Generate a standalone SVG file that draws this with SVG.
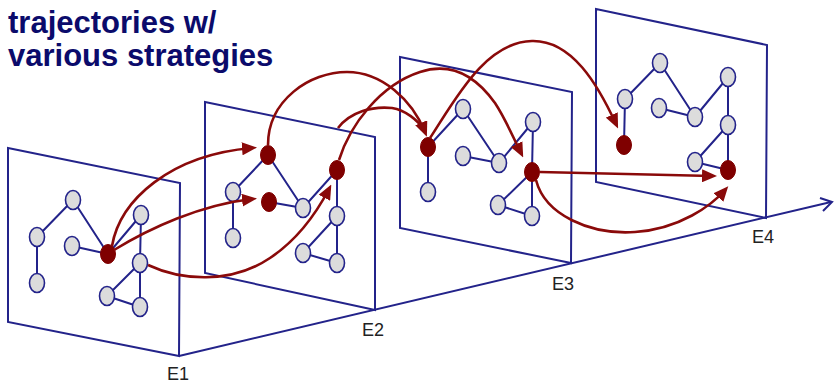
<svg xmlns="http://www.w3.org/2000/svg" width="834" height="385" viewBox="0 0 834 385">
<style>
.title{font-family:"Liberation Sans",Arial,sans-serif;font-weight:bold;font-size:31px;fill:#0b0b6b}
.lbl{font-family:"Liberation Sans",Arial,sans-serif;font-size:18px;fill:#222}
.pane{fill:none;stroke:#23238a;stroke-width:2}
.edge{stroke:#23238a;stroke-width:2;fill:none}
.n{fill:#dcdcdc;stroke:#23238a;stroke-width:1.6}
.r{fill:#7f0000;stroke:#7f0000;stroke-width:1}
.traj{fill:none;stroke:#8a0a0a;stroke-width:2.6}
.axis{fill:none;stroke:#23238a;stroke-width:2}
</style>
<defs>
<marker id="ah" viewBox="0 0 15 13" markerWidth="15" markerHeight="13" markerUnits="userSpaceOnUse" refX="10" refY="6.5" orient="auto">
<path d="M0,0 L15,6.5 L0,13 z" fill="#8a0a0a"/>
</marker>
</defs>
<rect width="834" height="385" fill="#fff"/>
<text class="title" x="8" y="33">trajectories w/</text>
<text class="title" x="8" y="66">various strategies</text>

<g id="axis">
<path class="axis" d="M179,356 L831,202"/>
<path class="axis" d="M820,198 L832,202 L823,211"/>
</g>

<g id="frame-E1">
<path class="pane" d="M8,148 L180,183 L179,356 L8,322 Z"/>
<g class="edge"><path d="M73,200 L37,237 M37,237 L37,283 M73,200 L108,254 M72,246 L108,254 M108,254 L141,215 M141,215 L140,263 M140,263 L107,296 M107,296 L140,307 M140,263 L140,307"/></g>
<g id="e1-a"><ellipse class="n" cx="73" cy="200" rx="7.5" ry="9.5"/></g>
<g id="e1-b"><ellipse class="n" cx="37" cy="237" rx="7.5" ry="9.5"/></g>
<g id="e1-c"><ellipse class="n" cx="37" cy="283" rx="7.5" ry="9.5"/></g>
<g id="e1-d"><ellipse class="n" cx="72" cy="246" rx="7.5" ry="9.5"/></g>
<g id="e1-r"><ellipse class="r" cx="108" cy="254" rx="7.5" ry="9.5"/></g>
<g id="e1-e"><ellipse class="n" cx="141" cy="215" rx="7.5" ry="9.5"/></g>
<g id="e1-f"><ellipse class="n" cx="140" cy="263" rx="7.5" ry="9.5"/></g>
<g id="e1-g"><ellipse class="n" cx="107" cy="296" rx="7.5" ry="9.5"/></g>
<g id="e1-h"><ellipse class="n" cx="140" cy="307" rx="7.5" ry="9.5"/></g>
<text class="lbl" x="167" y="380">E1</text>
</g>

<g id="frame-E2">
<path class="pane" d="M205,102 L375,137 L375,310 L205,273 Z"/>
<g class="edge"><path d="M268,155 L233,192 M233,192 L233,238 M268,155 L303,208 M269,202 L303,208 M303,208 L337,170 M337,170 L337,216 M337,216 L303,253 M303,253 L337,263 M337,216 L337,263"/></g>
<g id="e2-a"><ellipse class="r" cx="268" cy="155" rx="7.5" ry="9.5"/></g>
<g id="e2-b"><ellipse class="n" cx="233" cy="192" rx="7.5" ry="9.5"/></g>
<g id="e2-c"><ellipse class="n" cx="233" cy="238" rx="7.5" ry="9.5"/></g>
<g id="e2-d"><ellipse class="r" cx="269" cy="202" rx="7.5" ry="9.5"/></g>
<g id="e2-r"><ellipse class="n" cx="303" cy="208" rx="7.5" ry="9.5"/></g>
<g id="e2-e"><ellipse class="r" cx="337" cy="170" rx="7.5" ry="9.5"/></g>
<g id="e2-f"><ellipse class="n" cx="337" cy="216" rx="7.5" ry="9.5"/></g>
<g id="e2-g"><ellipse class="n" cx="303" cy="253" rx="7.5" ry="9.5"/></g>
<g id="e2-h"><ellipse class="n" cx="337" cy="263" rx="7.5" ry="9.5"/></g>
<text class="lbl" x="362" y="336">E2</text>
</g>

<g id="frame-E3">
<path class="pane" d="M400,57 L572,92 L571,263 L400,228 Z"/>
<g class="edge"><path d="M428,147 L428,192 M428,147 L463,109 M463,109 L499,163 M463,156 L499,163 M499,163 L533,122 M533,122 L532,172 M532,172 L498,205 M498,205 L532,216 M532,172 L532,216"/></g>
<g id="e3-a"><ellipse class="n" cx="463" cy="109" rx="7.5" ry="9.5"/></g>
<g id="e3-b"><ellipse class="r" cx="428" cy="147" rx="7.5" ry="9.5"/></g>
<g id="e3-c"><ellipse class="n" cx="428" cy="192" rx="7.5" ry="9.5"/></g>
<g id="e3-d"><ellipse class="n" cx="463" cy="156" rx="7.5" ry="9.5"/></g>
<g id="e3-r"><ellipse class="n" cx="499" cy="163" rx="7.5" ry="9.5"/></g>
<g id="e3-e"><ellipse class="n" cx="533" cy="122" rx="7.5" ry="9.5"/></g>
<g id="e3-f"><ellipse class="r" cx="532" cy="172" rx="7.5" ry="9.5"/></g>
<g id="e3-g"><ellipse class="n" cx="498" cy="205" rx="7.5" ry="9.5"/></g>
<g id="e3-h"><ellipse class="n" cx="532" cy="216" rx="7.5" ry="9.5"/></g>
<text class="lbl" x="552" y="290">E3</text>
</g>

<g id="frame-E4">
<path class="pane" d="M596,9 L767,45 L766,218 L596,182 Z"/>
<g class="edge"><path d="M660,63 L625,99 M625,99 L624,145 M660,63 L695,117 M659,108 L695,117 M695,117 L728,77 M728,77 L728,125 M728,125 L695,162 M695,162 L728,170 M728,125 L728,170"/></g>
<g id="e4-a"><ellipse class="n" cx="660" cy="63" rx="7.5" ry="9.5"/></g>
<g id="e4-b"><ellipse class="n" cx="625" cy="99" rx="7.5" ry="9.5"/></g>
<g id="e4-c"><ellipse class="r" cx="624" cy="145" rx="7.5" ry="9.5"/></g>
<g id="e4-d"><ellipse class="n" cx="659" cy="108" rx="7.5" ry="9.5"/></g>
<g id="e4-r"><ellipse class="n" cx="695" cy="117" rx="7.5" ry="9.5"/></g>
<g id="e4-e"><ellipse class="n" cx="728" cy="77" rx="7.5" ry="9.5"/></g>
<g id="e4-f"><ellipse class="n" cx="728" cy="125" rx="7.5" ry="9.5"/></g>
<g id="e4-g"><ellipse class="n" cx="695" cy="162" rx="7.5" ry="9.5"/></g>
<g id="e4-h"><ellipse class="r" cx="728" cy="170" rx="7.5" ry="9.5"/></g>
<text class="lbl" x="752" y="243">E4</text>
</g>

<g id="connectors">
<path class="traj" d="M112,246 C120,200 170,155 252,148" marker-end="url(#ah)"/>
<path class="traj" d="M114,250 C150,228 200,205 252,199" marker-end="url(#ah)"/>
<path class="traj" d="M148,265 C180,280 230,285 270,258 C300,238 318,210 329,189" marker-end="url(#ah)"/>
<path class="traj" d="M268,145 C268,100 310,72 347,72 C382,72 412,100 425,132" marker-end="url(#ah)"/>
<path class="traj" d="M338,128 C350,112 372,106 392,108 C405,110 418,120 425,131"/>
<path class="traj" d="M339,160 C350,125 380,85 420,72 C450,62 475,75 495,103 C505,118 512,135 521,153" marker-end="url(#ah)"/>
<path class="traj" d="M430,138 C455,100 485,42 532,41 C572,40 598,85 616,124" marker-end="url(#ah)"/>
<path class="traj" d="M540,172 L712,176" marker-end="url(#ah)"/>
<path class="traj" d="M536,180 C545,215 590,235 635,232 C680,229 712,205 725,190" marker-end="url(#ah)"/>
</g>
</svg>
